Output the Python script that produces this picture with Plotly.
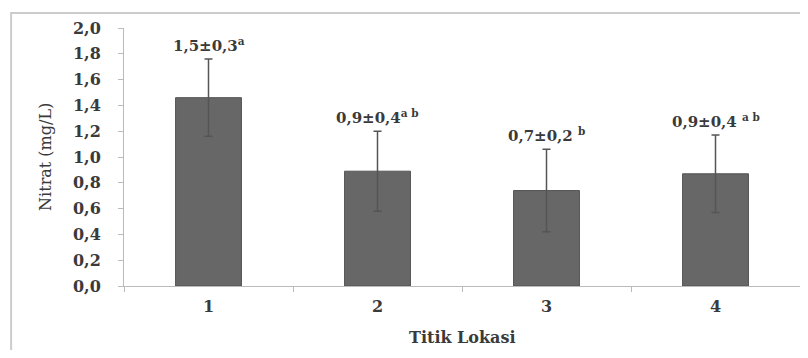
import plotly.graph_objects as go

categories = ["1", "2", "3", "4"]
means = [1.46, 0.89, 0.74, 0.87]
errors = [0.30, 0.31, 0.32, 0.30]
labels = ["1,5±0,3<sup>a</sup>", "0,9±0,4<sup>a b</sup>", "0,7±0,2 <sup>b</sup>", "0,9±0,4 <sup>a b</sup>"]
ytick_vals = [0.0, 0.2, 0.4, 0.6, 0.8, 1.0, 1.2, 1.4, 1.6, 1.8, 2.0]
ytick_text = ["0,0", "0,2", "0,4", "0,6", "0,8", "1,0", "1,2", "1,4", "1,6", "1,8", "2,0"]
x_title = "Titik Lokasi"
y_title = "Nitrat (mg/L)"

SERIF = "DejaVu Serif"

fig = go.Figure()
fig.add_trace(go.Bar(
    x=categories, y=means, width=0.39,
    marker=dict(color="#676767", line=dict(color="#555555", width=1)),
    error_y=dict(type="data", array=errors, visible=True, color="#555555",
                 thickness=1.5, width=4),
    showlegend=False,
))

for i, (m, e, lab) in enumerate(zip(means, errors, labels)):
    fig.add_annotation(x=i, y=m + e, text="<b>" + lab + "</b>", showarrow=False,
                       yanchor="bottom", yshift=2,
                       font=dict(family=SERIF, size=15, color="#3a3a3a"))

fig.add_annotation(xref="paper", yref="paper", x=0.5, y=-0.198, text="<b>" + x_title + "</b>",
                   showarrow=False, yanchor="middle",
                   font=dict(family=SERIF, size=16, color="#3a3a3a"))
fig.add_annotation(xref="paper", yref="paper", x=-0.117, y=0.5, text=y_title,
                   showarrow=False, textangle=-90, xanchor="center",
                   font=dict(family=SERIF, size=16, color="#3a3a3a"))

# outer border (only top and left visible in the crop)
fig.add_shape(type="rect", xref="paper", yref="paper", x0=-0.167, y0=-0.4, x1=1.2, y1=1.058,
              line=dict(color="#cccccc", width=2), layer="below")

# page body has an 8px default margin, so the figure is sized/placed to compensate
fig.update_layout(
    width=792, height=342,
    margin=dict(l=116, r=0, t=20, b=64, autoexpand=False),
    paper_bgcolor="white", plot_bgcolor="white",
    xaxis=dict(
        type="category", range=[-0.5, 3.5], tickson="boundaries", ticks="outside", ticklen=5,
        tickcolor="#bbbbbb", showline=True, linecolor="#bbbbbb", linewidth=1,
        showgrid=False, ticklabelstandoff=6, automargin=False,
        tickfont=dict(family=SERIF, size=16, color="#3a3a3a", weight="bold"),
    ),
    yaxis=dict(
        range=[0, 2.0], tickvals=ytick_vals, ticktext=ytick_text,
        ticks="outside", ticklen=5, tickcolor="#bbbbbb",
        showline=True, linecolor="#bbbbbb", linewidth=1,
        showgrid=False, zeroline=False, ticklabelstandoff=14, automargin=False,
        tickfont=dict(family=SERIF, size=16, color="#3a3a3a", weight="bold"),
    ),
)

fig.write_html("out.html")
